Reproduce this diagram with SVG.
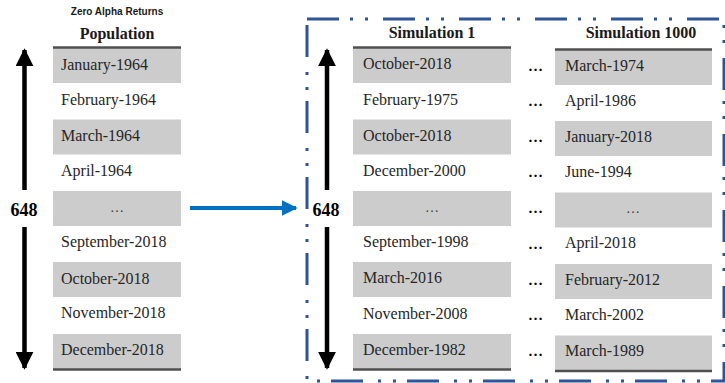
<svg xmlns="http://www.w3.org/2000/svg" width="725" height="383" viewBox="0 0 725 383">
<style>
.g{fill:#CCCCCC}
.t{font-family:"Liberation Serif",serif;font-size:16px;fill:#262626}
.h{font-family:"Liberation Serif",serif;font-size:16px;font-weight:bold;fill:#1a1a1a}
.n{font-family:"Liberation Serif",serif;font-size:18px;font-weight:bold;fill:#000}
.d{font-family:"Liberation Serif",serif;font-size:15px;font-weight:bold;fill:#000}
.m{font-family:"Liberation Serif",serif;font-size:14px;fill:#404040}
.rule{stroke:#505050;stroke-width:2.5}
</style>
<defs>
<marker id="ah" markerWidth="4" markerHeight="4" refX="3.6" refY="2" orient="auto" markerUnits="strokeWidth"><path d="M0,0 L4,2 L0,4 Z" fill="#000"/></marker>
<marker id="bh" markerWidth="4" markerHeight="4" refX="3.6" refY="2" orient="auto" markerUnits="strokeWidth"><path d="M0,0 L4,2 L0,4 Z" fill="#0070C0"/></marker>
</defs>
<rect width="725" height="383" fill="#fff"/>
<text x="117" y="15" text-anchor="middle" style="font-family:'Liberation Sans',sans-serif;font-size:10px;font-weight:bold;fill:#1a1a1a">Zero Alpha Returns</text>
<g id="frame"><rect x="307" y="19" width="417" height="362" fill="none" stroke="#2E5597" stroke-width="3" stroke-dasharray="32 11 3 12 3 15"/></g>
<g id="population">
<text class="h" x="117" y="39" text-anchor="middle">Population</text>
<rect class="g" x="53" y="48" width="128" height="35"/>
<rect class="g" x="53" y="119.5" width="128" height="35"/>
<rect class="g" x="53" y="191" width="128" height="35"/>
<rect class="g" x="53" y="262" width="128" height="35"/>
<rect class="g" x="53" y="334" width="128" height="35"/>
<line class="rule" x1="53" y1="47.5" x2="181" y2="47.5"/>
<line class="rule" x1="53" y1="369.5" x2="181" y2="369.5"/>
<text class="t" x="61" y="70">January-1964</text>
<text class="t" x="61" y="105">February-1964</text>
<text class="t" x="61" y="141">March-1964</text>
<text class="t" x="61" y="176">April-1964</text>
<text class="m" x="117" y="212" text-anchor="middle">…</text>
<text class="t" x="61" y="247">September-2018</text>
<text class="t" x="61" y="284">October-2018</text>
<text class="t" x="61" y="318">November-2018</text>
<text class="t" x="61" y="355">December-2018</text>
</g>
<g id="sim1">
<text class="h" x="432" y="38" text-anchor="middle">Simulation 1</text>
<rect class="g" x="353" y="48" width="158" height="35"/>
<rect class="g" x="353" y="119.5" width="158" height="35"/>
<rect class="g" x="353" y="191" width="158" height="35"/>
<rect class="g" x="353" y="262" width="158" height="35"/>
<rect class="g" x="353" y="334" width="158" height="35"/>
<line class="rule" x1="353" y1="47.5" x2="511" y2="47.5"/>
<line class="rule" x1="353" y1="369.5" x2="511" y2="369.5"/>
<text class="t" x="363" y="69">October-2018</text>
<text class="t" x="363" y="105">February-1975</text>
<text class="t" x="363" y="141">October-2018</text>
<text class="t" x="363" y="176">December-2000</text>
<text class="m" x="432" y="212" text-anchor="middle">…</text>
<text class="t" x="363" y="247">September-1998</text>
<text class="t" x="363" y="283">March-2016</text>
<text class="t" x="363" y="319">November-2008</text>
<text class="t" x="363" y="355">December-1982</text>
</g>
<g id="sim1000">
<text class="h" x="641" y="38" text-anchor="middle">Simulation 1000</text>
<rect class="g" x="555" y="50" width="157" height="35"/>
<rect class="g" x="555" y="121" width="157" height="35"/>
<rect class="g" x="555" y="192.5" width="157" height="35"/>
<rect class="g" x="555" y="264" width="157" height="35"/>
<rect class="g" x="555" y="335.5" width="157" height="35"/>
<line class="rule" x1="555" y1="49.5" x2="712" y2="49.5"/>
<line class="rule" x1="555" y1="371" x2="712" y2="371"/>
<text class="t" x="565" y="71">March-1974</text>
<text class="t" x="565" y="106">April-1986</text>
<text class="t" x="565" y="142">January-2018</text>
<text class="t" x="565" y="177">June-1994</text>
<text class="m" x="633" y="213" text-anchor="middle">…</text>
<text class="t" x="565" y="248">April-2018</text>
<text class="t" x="565" y="285">February-2012</text>
<text class="t" x="565" y="320">March-2002</text>
<text class="t" x="565" y="356">March-1989</text>
</g>
<g id="dots">
<text class="d" x="528" y="71">…</text>
<text class="d" x="528" y="106">…</text>
<text class="d" x="528" y="142">…</text>
<text class="d" x="528" y="177">…</text>
<text class="d" x="528" y="213">…</text>
<text class="d" x="528" y="249">…</text>
<text class="d" x="528" y="285">…</text>
<text class="d" x="528" y="320">…</text>
<text class="d" x="528" y="356">…</text>
</g>
<g id="count-left">
<text class="n" x="24" y="216" text-anchor="middle">648</text>
</g>
<g id="count-right">
<text class="n" x="326" y="216" text-anchor="middle">648</text>
</g>
<g id="connectors">
<line x1="24.5" y1="190" x2="24.5" y2="50" stroke="#000" stroke-width="4.5" marker-end="url(#ah)"/>
<line x1="24.5" y1="227" x2="24.5" y2="368" stroke="#000" stroke-width="4.5" marker-end="url(#ah)"/>
<line x1="327" y1="190" x2="327" y2="50" stroke="#000" stroke-width="4.5" marker-end="url(#ah)"/>
<line x1="327" y1="227" x2="327" y2="368" stroke="#000" stroke-width="4.5" marker-end="url(#ah)"/>
<line x1="190" y1="208" x2="296" y2="208" stroke="#0070C0" stroke-width="4" marker-end="url(#bh)"/>
</g>
</svg>
